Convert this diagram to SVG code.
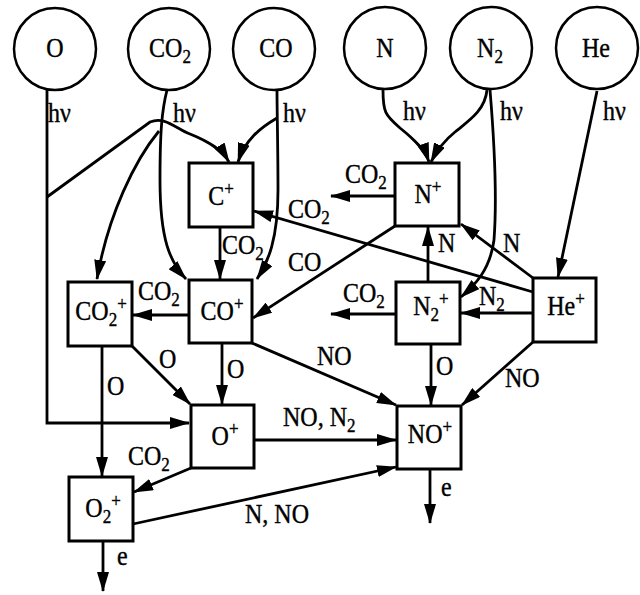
<svg xmlns="http://www.w3.org/2000/svg" width="640" height="595" viewBox="0 0 640 595">
<style>
.c{fill:#fff;stroke:#000;stroke-width:2.5}
.b{fill:#fff;stroke:#000;stroke-width:3}
.e{fill:none;stroke:#000;stroke-width:2.8;marker-end:url(#ah)}
text{font-family:"Liberation Serif","Times New Roman",serif;font-size:24px;fill:#000;stroke:#000;stroke-width:0.35}
.m{text-anchor:middle}
.s{font-size:17px}
</style>
<defs>
<marker id="ah" markerWidth="20" markerHeight="12" refX="19" refY="6" orient="auto" markerUnits="userSpaceOnUse" viewBox="0 0 20 12"><path d="M0,0 L20,6 L0,12 z" fill="#000"/></marker>
</defs>
<rect width="640" height="595" fill="#fff"/>
<g id="connectors">
<path class="e" d="M47,90 V423 H189"/>
<path class="e" d="M47,197 L150,122 C165,116 175,128 190,134 C210,142 222,150 229,162"/>
<path class="e" d="M167,90 C162,110 160,130 160,180 C160,240 170,262 186,279"/>
<path class="e" d="M159,131 C135,160 108,215 97,279"/>
<path class="e" d="M277,118 C260,128 245,140 238,162"/>
<path class="e" d="M277,90 C277,110 278,150 278,190 C278,240 268,262 257,279"/>
<path class="e" d="M220,227 V279"/>
<path class="e" d="M189,315 H133"/>
<path class="e" d="M383,90 C383,112 385,115 400,128 C415,140 425,150 429,162"/>
<path class="e" d="M487,90 C485,110 470,120 455,132 C445,140 437,150 431,162"/>
<path class="e" d="M490,90 C495,150 497,200 494,240 C490,270 475,285 461,297"/>
<path class="e" d="M597,91 L558,277"/>
<path class="e" d="M395,196 H331"/>
<path class="e" d="M533,292 L254,211"/>
<path class="e" d="M395,226 L253,318"/>
<path class="e" d="M428,282 V227"/>
<path class="e" d="M533,278 L461,224"/>
<path class="e" d="M396,314 H331"/>
<path class="e" d="M533,313 H461"/>
<path class="e" d="M533,342 L462,405"/>
<path class="e" d="M431,344 V405"/>
<path class="e" d="M252,343 L396,405"/>
<path class="e" d="M222,343 V404"/>
<path class="e" d="M132,346 L190,404"/>
<path class="e" d="M102,346 V476"/>
<path class="e" d="M254,440 H396"/>
<path class="e" d="M191,468 L134,492"/>
<path class="e" d="M133,524 L396,467"/>
<path class="e" d="M103,541 V591"/>
<path class="e" d="M430,469 V523"/>
</g>
<g id="labels">
<text x="48" y="122" transform="matrix(1 0 0 1.15 0 -18.3)">hν</text>
<text x="173" y="122" transform="matrix(1 0 0 1.15 0 -18.3)">hν</text>
<text x="283" y="122" transform="matrix(1 0 0 1.15 0 -18.3)">hν</text>
<text x="403" y="120" transform="matrix(1 0 0 1.15 0 -18)">hν</text>
<text x="500" y="120" transform="matrix(1 0 0 1.15 0 -18)">hν</text>
<text x="603" y="120" transform="matrix(1 0 0 1.15 0 -18)">hν</text>
<text x="222" y="254" transform="matrix(1 0 0 1.15 0 -38.1)">CO<tspan class="s" dy="5">2</tspan></text>
<text x="138" y="300" transform="matrix(1 0 0 1.15 0 -45)">CO<tspan class="s" dy="5">2</tspan></text>
<text x="345" y="183" transform="matrix(1 0 0 1.15 0 -27.45)">CO<tspan class="s" dy="5">2</tspan></text>
<text x="288" y="218" transform="matrix(1 0 0 1.15 0 -32.7)">CO<tspan class="s" dy="5">2</tspan></text>
<text x="288" y="271" transform="matrix(1 0 0 1.15 0 -40.65)">CO</text>
<text x="438" y="252" transform="matrix(1 0 0 1.15 0 -37.8)">N</text>
<text x="503" y="252" transform="matrix(1 0 0 1.15 0 -37.8)">N</text>
<text x="343" y="302" transform="matrix(1 0 0 1.15 0 -45.3)">CO<tspan class="s" dy="5">2</tspan></text>
<text x="479" y="305" transform="matrix(1 0 0 1.15 0 -45.75)">N<tspan class="s" dy="5">2</tspan></text>
<text x="505" y="387" transform="matrix(1 0 0 1.15 0 -58.05)">NO</text>
<text x="436" y="375" transform="matrix(1 0 0 1.15 0 -56.25)">O</text>
<text x="317" y="365" transform="matrix(1 0 0 1.15 0 -54.75)">NO</text>
<text x="227" y="378" transform="matrix(1 0 0 1.15 0 -56.7)">O</text>
<text x="159" y="368" transform="matrix(1 0 0 1.15 0 -55.2)">O</text>
<text x="107" y="395" transform="matrix(1 0 0 1.15 0 -59.25)">O</text>
<text x="283" y="426" transform="matrix(1 0 0 1.15 0 -63.9)">NO, N<tspan class="s" dy="5">2</tspan></text>
<text x="128" y="465" transform="matrix(1 0 0 1.15 0 -69.75)">CO<tspan class="s" dy="5">2</tspan></text>
<text x="245" y="523" transform="matrix(1 0 0 1.15 0 -78.45)">N, NO</text>
<text x="117" y="565" transform="matrix(1 0 0 1.15 0 -84.75)">e</text>
<text x="441" y="496" transform="matrix(1 0 0 1.15 0 -74.4)">e</text>
</g>
<g id="n-O"><circle class="c" cx="55" cy="49" r="41"/><text class="m" x="55" y="57" transform="matrix(1 0 0 1.15 0 -8.55)">O</text></g>
<g id="n-CO2"><circle class="c" cx="169" cy="49" r="41"/><text class="m" x="170" y="57" transform="matrix(1 0 0 1.15 0 -8.55)">CO<tspan class="s" dy="5">2</tspan></text></g>
<g id="n-CO"><circle class="c" cx="274" cy="49" r="41"/><text class="m" x="276" y="57" transform="matrix(1 0 0 1.15 0 -8.55)">CO</text></g>
<g id="n-N"><circle class="c" cx="385" cy="48" r="41"/><text class="m" x="385" y="57" transform="matrix(1 0 0 1.15 0 -8.55)">N</text></g>
<g id="n-N2"><circle class="c" cx="491" cy="48" r="41"/><text class="m" x="490" y="57" transform="matrix(1 0 0 1.15 0 -8.55)">N<tspan class="s" dy="5">2</tspan></text></g>
<g id="n-He"><circle class="c" cx="597" cy="48" r="41"/><text class="m" x="596" y="57" transform="matrix(1 0 0 1.15 0 -8.55)">He</text></g>
<g id="n-Cp"><rect class="b" x="189" y="163" width="64" height="64"/><text class="m" x="221" y="205" transform="matrix(1 0 0 1.15 0 -30.75)">C<tspan class="s" dy="-9">+</tspan></text></g>
<g id="n-COp"><rect class="b" x="189" y="280" width="63" height="63"/><text class="m" x="222" y="320" transform="matrix(1 0 0 1.15 0 -48)">CO<tspan class="s" dy="-9">+</tspan></text></g>
<g id="n-CO2p"><rect class="b" x="68" y="282" width="64" height="64"/><text class="m" x="101" y="320" transform="matrix(1 0 0 1.15 0 -48)">CO<tspan class="s" dy="5">2</tspan><tspan class="s" dy="-14">+</tspan></text></g>
<g id="n-Np"><rect class="b" x="395" y="163" width="64" height="63"/><text class="m" x="428" y="203" transform="matrix(1 0 0 1.15 0 -30.45)">N<tspan class="s" dy="-9">+</tspan></text></g>
<g id="n-N2p"><rect class="b" x="396" y="282" width="64" height="62"/><text class="m" x="431" y="315" transform="matrix(1 0 0 1.15 0 -47.25)">N<tspan class="s" dy="5">2</tspan><tspan class="s" dy="-14">+</tspan></text></g>
<g id="n-Hep"><rect class="b" x="533" y="278" width="63" height="64"/><text class="m" x="566" y="315" transform="matrix(1 0 0 1.15 0 -47.25)">He<tspan class="s" dy="-9">+</tspan></text></g>
<g id="n-Op"><rect class="b" x="191" y="405" width="63" height="63"/><text class="m" x="225" y="445" transform="matrix(1 0 0 1.15 0 -66.75)">O<tspan class="s" dy="-9">+</tspan></text></g>
<g id="n-NOp"><rect class="b" x="397" y="406" width="64" height="63"/><text class="m" x="430" y="443" transform="matrix(1 0 0 1.15 0 -66.45)">NO<tspan class="s" dy="-9">+</tspan></text></g>
<g id="n-O2p"><rect class="b" x="69" y="477" width="64" height="64"/><text class="m" x="103" y="517" transform="matrix(1 0 0 1.15 0 -77.55)">O<tspan class="s" dy="5">2</tspan><tspan class="s" dy="-14">+</tspan></text></g>
</svg>
